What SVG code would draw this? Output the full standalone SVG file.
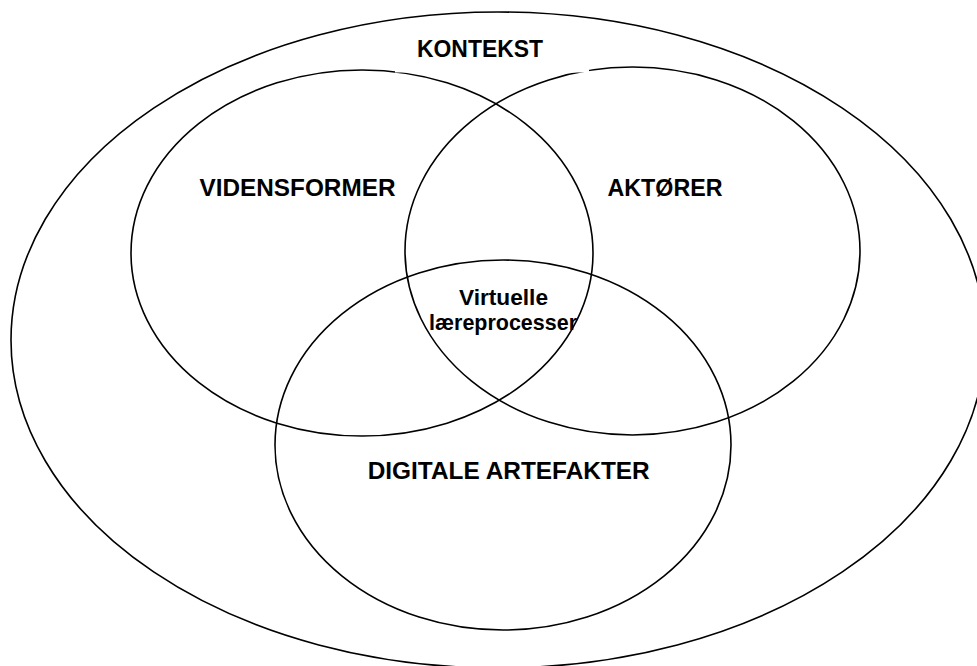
<svg xmlns="http://www.w3.org/2000/svg" width="977" height="666" viewBox="0 0 977 666">
  <style>
    .shape { fill: none; stroke: #000; stroke-width: 1.6; }
    .head { font-family: "Liberation Sans", Arial, sans-serif; font-weight: bold; font-size: 23.5px; fill: #000; text-anchor: middle; }
    .center { font-family: "Liberation Sans", Arial, sans-serif; font-weight: bold; font-size: 22px; fill: #000; text-anchor: middle; }
  </style>
  <rect x="0" y="0" width="977" height="666" fill="#fff"/>
  <g id="kontekst">
    <ellipse class="shape" cx="498" cy="340" rx="487" ry="328"/>
  </g>
  <g id="vidensformer">
    <ellipse class="shape" cx="362" cy="253" rx="231" ry="183"/>
    <text class="head" x="297.5" y="195.5" textLength="196" lengthAdjust="spacingAndGlyphs">VIDENSFORMER</text>
  </g>
  <g id="aktorer">
    <ellipse class="shape" cx="632.5" cy="251" rx="227.5" ry="184"/>
    <text class="head" x="665" y="195.5" textLength="115" lengthAdjust="spacingAndGlyphs">AKTØRER</text>
  </g>
  <g id="digitale-artefakter">
    <ellipse class="shape" cx="503" cy="445" rx="228" ry="185"/>
    <text class="head" x="508.7" y="479" textLength="282" lengthAdjust="spacingAndGlyphs">DIGITALE ARTEFAKTER</text>
  </g>
  <g id="kontekst-label">
    <rect x="395" y="26" width="194" height="46.5" fill="#fff"/>
    <text class="head" x="480" y="57" textLength="126" lengthAdjust="spacingAndGlyphs">KONTEKST</text>
  </g>
  <g id="virtuelle-laereprocesser">
    <text class="center" x="503.5" y="305" textLength="89" lengthAdjust="spacingAndGlyphs">Virtuelle</text>
    <text class="center" x="503" y="330" textLength="148" lengthAdjust="spacingAndGlyphs">læreprocesser</text>
  </g>
  <g id="connectors"/>
</svg>
